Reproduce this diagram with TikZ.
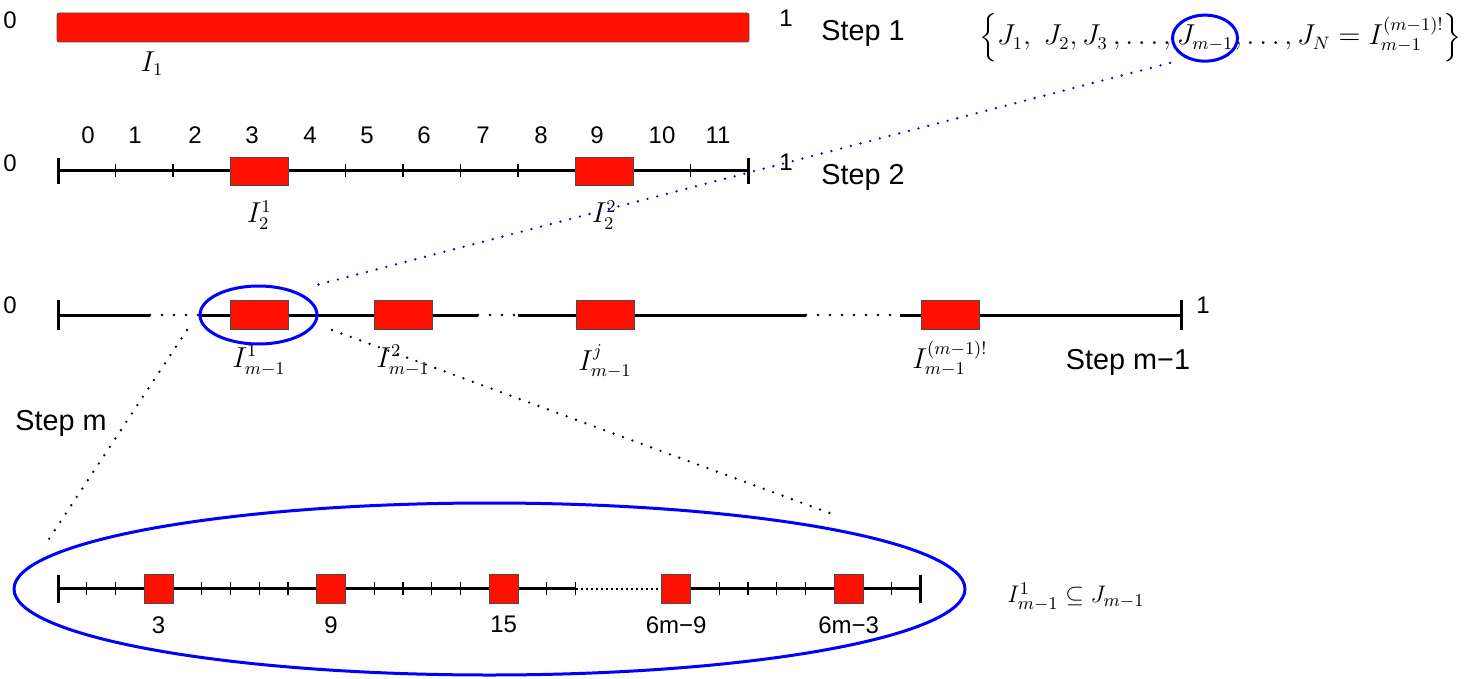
\documentclass[tikz,border=0pt]{standalone}
\usepackage{amsmath}
\usepackage{amssymb}
\usepackage{fontspec}
\setmainfont{Liberation Sans}
\usetikzlibrary{shapes.geometric, positioning}
\definecolor{barred}{RGB}{255,17,0}

\begin{document}
\begin{tikzpicture}[x=0.5pt, y=-0.5pt]
    \tikzstyle{redbox} = [draw=black!70, thin, fill=barred, inner sep=0pt, minimum height=14.5pt]
    \tikzstyle{axis} = [line width=1.5pt]
    \tikzstyle{smalltick} = [line width=0.6pt]
    \tikzstyle{ring} = [draw=blue, line width=1.5pt, ellipse, inner sep=0pt]
    \tikzstyle{zoomline} = [line width=1.3pt, line cap=round, dash pattern=on 0pt off 5pt]
    \tikzstyle{gap} = [line width=1.3pt, line cap=round, dash pattern=on 0pt off 6pt]
    \tikzstyle{num} = [font=\fontsize{12}{14}\selectfont]
    \tikzstyle{steplabel} = [font=\fontsize{14.4}{16}\selectfont]
    \tikzstyle{mathlabel} = [font=\fontsize{13.5}{15}\selectfont]
    \tikzstyle{setpart} = [font=\fontsize{13.5}{15}\selectfont, inner sep=0pt]

    \useasboundingbox (0,0) rectangle (1465,679);

    % step 1
    \node[redbox, minimum width=346pt, rounded corners=1pt] (bar1) at (403,27.5) {};
    \node[num] (zero1) at (10,20) {0};
    \node[num] (one1) at (786,18) {1};
    \node[steplabel] (step1) at (863,33) {Step 1};
    \node[mathlabel] (lab1) at (152,64) {$I_1$};

    % the set of the J's
    \node[setpart, anchor=base] (Jm) at (1205,45) {$J_{m-1}$};
    \node[setpart, anchor=base east] (setl) at (Jm.base west)
        {$\Big\{ J_1,\; J_2, J_3\,, \ldots,\,$};
    \node[setpart, anchor=base west] (setr) at (Jm.base east)
        {$, \ldots, J_N = I^{(m-1)!}_{m-1} \Big\}$};
    \node[ring, minimum width=32.5pt, minimum height=23pt] (ringJ) at (Jm.center) {};

    % step 2
    \coordinate (a2l) at (58,171);
    \coordinate (a2r) at (748,171);
    \draw[axis] (a2l) -- (a2r);
    \draw[axis] ([yshift=6.5pt]a2l) -- ([yshift=-6.5pt]a2l);
    \draw[axis] ([yshift=6.5pt]a2r) -- ([yshift=-6.5pt]a2r);
    \foreach \k in {1,2,5,6,7,8,11}
        \draw[smalltick] (58+57.5*\k,164.5) -- (58+57.5*\k,177.5);
    \foreach \n/\px in {0/88,1/135,2/195,3/252,4/310,5/367,6/424,7/483,8/541,9/597,10/662,11/718}
        \node[num] (d\n) at (\px,135) {\n};
    \node[redbox, minimum width=29pt, minimum height=14pt] (b2a) at (259.25,171) {};
    \node[redbox, minimum width=29pt, minimum height=14pt] (b2b) at (604.25,171) {};
    \node[mathlabel, below=4pt of b2a] (lab2a) {$I_2^1$};
    \node[mathlabel, below=4pt of b2b] (lab2b) {$I_2^2$};
    \node[num] (zero2) at (10,163) {0};
    \node[num] (one2) at (786,162) {1};
    \node[steplabel] (step2) at (863,177) {Step 2};

    % step m-1
    \coordinate (a3l) at (58,315);
    \coordinate (g1a) at (150,315);
    \coordinate (g1b) at (200,315);
    \coordinate (g2a) at (478,315);
    \coordinate (g2b) at (518,315);
    \coordinate (g3a) at (806,315);
    \coordinate (g3b) at (900,315);
    \coordinate (a3r) at (1181,315);
    \draw[axis] (a3l) -- (g1a) (g1b) -- (g2a) (g2b) -- (g3a) (g3b) -- (a3r);
    \draw[gap] (g1a) -- (g1b) (g2a) -- (g2b) (g3a) -- (g3b);
    \draw[axis] ([yshift=7.5pt]a3l) -- ([yshift=-7.5pt]a3l);
    \draw[axis] ([yshift=7.5pt]a3r) -- ([yshift=-7.5pt]a3r);
    \node[redbox, minimum width=29pt] (b3a) at (259,315) {};
    \node[redbox, minimum width=29pt] (b3b) at (403,315) {};
    \node[redbox, minimum width=29pt] (b3j) at (605,315) {};
    \node[redbox, minimum width=29pt] (b3n) at (950,315) {};
    \node[mathlabel, below=4pt of b3a] (lab3a) {$I^1_{m-1}$};
    \node[mathlabel, below=4pt of b3b] (lab3b) {$I^2_{m-1}$};
    \node[mathlabel, below=4pt of b3j] (lab3j) {$I^j_{m-1}$};
    \node[mathlabel, below=2pt of b3n] (lab3n) {$I^{(m-1)!}_{m-1}$};
    \node[ring, minimum width=58.5pt, minimum height=29pt] (ringA) at (258.5,315) {};
    \node[num] (zero3) at (10,305) {0};
    \node[num] (one3) at (1203,305) {1};
    \node[steplabel] (step3) at (1128,362) {Step m−1};

    % step m, the zoomed interval
    \node[steplabel] (step4) at (61,423) {Step m};
    \coordinate (a4l) at (58,588.5);
    \coordinate (g4a) at (575.5,588.5);
    \coordinate (g4b) at (661.75,588.5);
    \coordinate (a4r) at (920.5,588.5);
    \draw[axis] (a4l) -- (g4a) (g4b) -- (a4r);
    \draw[line width=1pt, dash pattern=on 1pt off 1.5pt] (g4a) -- (g4b);
    \draw[axis] ([yshift=7pt]a4l) -- ([yshift=-7pt]a4l);
    \draw[axis] ([yshift=7pt]a4r) -- ([yshift=-7pt]a4r);
    \foreach \k in {1,2,5,6,7,8,11,12,13,14,17,18,23,24,25,26,29}
        \draw[smalltick] (58+28.75*\k,582) -- (58+28.75*\k,595);
    \foreach \k/\lab in {3/3, 9/9, 15/15, 21/6m−9, 27/6m−3} {
        \node[redbox, minimum width=14.5pt] (c\k) at (72.375+28.75*\k,588.5) {};
        \node[num, below=3pt of c\k] (lc\k) {\lab};
    }
    \node[ring, minimum width=475.5pt, minimum height=86pt] (ringB) at (489.5,589) {};
    \node[font=\fontsize{12.5}{15}\selectfont] (incl) at (1076,597) {$I^1_{m-1} \subseteq J_{m-1}$};

    % zoom lines
    \coordinate (ql) at (187,330);
    \coordinate (qr) at (332,330);
    \coordinate (zl) at (45,545);
    \coordinate (zr) at (835,515);
    \draw[zoomline, blue] (ringA.north -| ringA.east) -- (ringJ.south -| ringJ.west);
    \draw[zoomline] (ql) -- (zl);
    \draw[zoomline] (qr) -- (zr);
\end{tikzpicture}
\end{document}
